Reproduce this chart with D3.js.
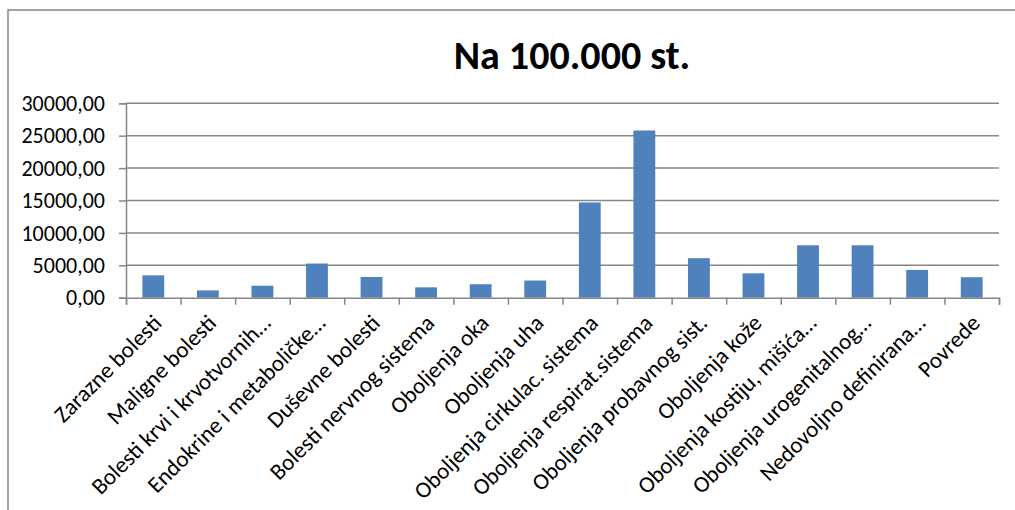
<!DOCTYPE html>
<html>
<head>
<meta charset="utf-8">
<script src="https://cdn.jsdelivr.net/npm/d3@7"></script>
<style>
  body { margin: 0; background: #fff; }
  text { font-family: Carlito, Calibri, "Open Sans", sans-serif; fill: #000; }
</style>
</head>
<body>
<svg id="chart" width="1015" height="510"></svg>
<script>
var title = "Na 100.000 st.";

var categories = [
    "Zarazne bolesti",
    "Maligne bolesti",
    "Bolesti krvi i krvotvornih…",
    "Endokrine i metaboličke…",
    "Duševne bolesti",
    "Bolesti nervnog sistema",
    "Oboljenja oka",
    "Oboljenja uha",
    "Oboljenja cirkulac. sistema",
    "Oboljenja respirat.sistema",
    "Oboljenja probavnog sist.",
    "Oboljenja kože",
    "Oboljenja kostiju, mišića…",
    "Oboljenja urogenitalnog…",
    "Nedovoljno definirana…",
    "Povrede"
];

var values = [3450, 1120, 1850, 5270, 3200, 1600, 2080, 2650, 14700, 25800, 6100, 3760, 8090, 8090, 4290, 3160];

var yTicks = [0, 5000, 10000, 15000, 20000, 25000, 30000];

var grey = "#868686";
var barColor = "#4f81bd";

var svg = d3.select('#chart');

// outer frame (right and bottom edges fall outside the picture)
svg.append('rect')
    .attr('x', 8)
    .attr('y', 10)
    .attr('width', 1030)
    .attr('height', 530)
    .attr('fill', 'none')
    .attr('stroke', grey)
    .attr('stroke-width', 1.5);

svg.append('text')
    .attr('x', 572)
    .attr('y', 69)
    .attr('text-anchor', 'middle')
    .attr('font-size', 40)
    .attr('font-weight', 'bold')
    .text(title);

var plotLeft = 126, plotRight = 999, plotTop = 103.3, plotBottom = 297.7;

var x = d3.scaleBand()
    .domain(categories)
    .range([plotLeft, plotRight])
    .paddingInner(0.6)
    .paddingOuter(0.3);

var y = d3.scaleLinear()
    .domain([0, 30000])
    .range([plotBottom, plotTop]);

// gridlines
svg.append('g')
    .selectAll('line')
    .data(yTicks.slice(1))
    .enter()
    .append('line')
    .attr('x1', plotLeft)
    .attr('x2', plotRight)
    .attr('y1', d => y(d))
    .attr('y2', d => y(d))
    .attr('stroke', grey)
    .attr('stroke-width', 1.5);

// bars
svg.append('g')
    .selectAll('rect')
    .data(values)
    .enter()
    .append('rect')
    .attr('x', (d, i) => x(categories[i]))
    .attr('width', x.bandwidth())
    .attr('y', d => y(d))
    .attr('height', d => plotBottom - y(d))
    .attr('fill', barColor);

// y axis
let yAxis = d3.axisLeft(y)
    .tickValues(yTicks)
    .tickSize(7)
    .tickPadding(14)
    .tickFormat(d => d3.format('.2f')(d).replace('.', ','));

let yG = svg.append('g')
    .attr('transform', `translate(${plotLeft} 0)`)
    .call(yAxis);

yG.selectAll('text')
    .attr('font-size', 22)
    .attr('font-family', null)
    .attr('fill', '#000')
    .attr('dy', '0.33em');

// x axis: tick marks between categories
var tickScale = d3.scaleLinear()
    .domain([0, categories.length])
    .range([plotLeft, plotRight]);

let xAxis = d3.axisBottom(tickScale)
    .tickValues(d3.range(categories.length + 1))
    .tickSize(7)
    .tickFormat('');

svg.append('g')
    .attr('transform', `translate(0 ${plotBottom})`)
    .call(xAxis);

svg.selectAll('.domain, .tick line')
    .attr('stroke', grey)
    .attr('stroke-width', 1.5);

svg.selectAll('.tick text').attr('font-family', null);

// category labels
svg.append('g')
    .selectAll('text')
    .data(categories)
    .enter()
    .append('text')
    .attr('transform', d => `translate(${x(d) + x.bandwidth() / 2 + 4} ${plotBottom + 21}) rotate(-45)`)
    .attr('text-anchor', 'end')
    .attr('font-size', 23)
    .attr('dy', '0.35em')
    .text(d => d);
</script>
</body>
</html>
